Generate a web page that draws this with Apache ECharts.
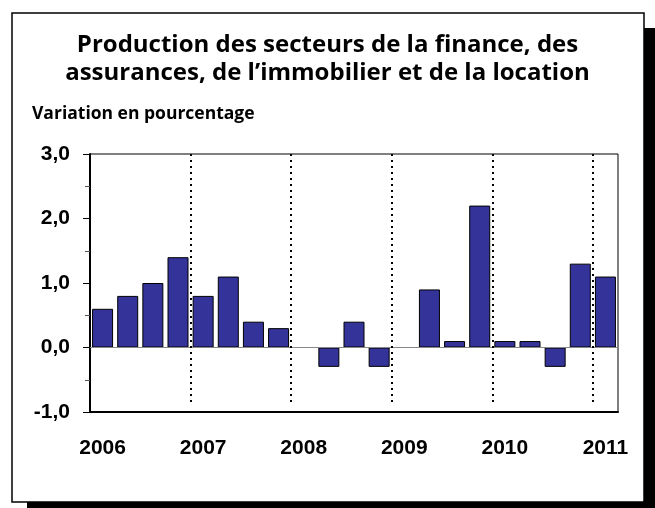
<!DOCTYPE html>
<html>
<head>
<meta charset="utf-8">
<script src="https://cdn.jsdelivr.net/npm/echarts@6/dist/echarts.min.js"></script>
<style>
  html, body { margin: 0; padding: 0; background: #fff; }
  #main { width: 655px; height: 508px; }
</style>
</head>
<body>
<div id="main"></div>
<script>
// trimestres 2006T1 - 2011T1
var quarters = ['2006T1','2006T2','2006T3','2006T4','2007T1','2007T2','2007T3','2007T4',
                '2008T1','2008T2','2008T3','2008T4','2009T1','2009T2','2009T3','2009T4',
                '2010T1','2010T2','2010T3','2010T4','2011T1'];
var values = [0.6, 0.8, 1.0, 1.4, 0.8, 1.1, 0.4, 0.3,
              0.0, -0.3, 0.4, -0.3, 0.0, 0.9, 0.1, 2.2,
              0.1, 0.1, -0.3, 1.3, 1.1];
// separateurs d'annees (en nombre de trimestres)
var yearBreaks = [4, 8, 12, 16, 20];

var myChart = echarts.init(document.getElementById('main'));

var breakLines = yearBreaks.map(function (b) {
    return [{ coord: [b, 3] }, { coord: [b, -0.9] }];
});

myChart.setOption({
    animation: false,
    backgroundColor: '#fff',
    graphic: [
        { type: 'rect', z: -10, shape: { x: 27, y: 28, width: 640, height: 490 }, style: { fill: '#000' } },
        { type: 'rect', z: -9, shape: { x: 12, y: 13, width: 632, height: 489 }, style: { fill: '#fff', stroke: '#000', lineWidth: 1.5 } },
        { type: 'text', left: 'center', top: 31, style: {
            text: 'Production des secteurs de la finance, des\nassurances, de l\u2019immobilier et de la location',
            font: 'bold 24px "Open Sans"', fill: '#000', textAlign: 'center', lineHeight: 28 } },
        { type: 'text', left: 32, top: 105, style: {
            text: 'Variation en pourcentage', font: 'bold 17.5px "Open Sans"', fill: '#000' } }
    ],
    grid: { left: 90, top: 154, right: 37, bottom: 96, show: true, borderColor: '#000', borderWidth: 1 },
    xAxis: [{
        type: 'category',
        data: quarters,
        position: 'bottom',
        axisLine: { onZero: false, lineStyle: { color: '#000', width: 2 } },
        axisTick: { show: false },
        axisLabel: {
            interval: 0,
            margin: 26,
            color: '#000',
            fontFamily: 'Liberation Sans',
            fontWeight: 'bold',
            fontSize: 21,
            formatter: function (v, i) { return i % 4 === 0 ? v.slice(0, 4) : ''; }
        }
    }, {
        type: 'value',
        min: 0, max: 21,
        show: false
    }],
    yAxis: {
        type: 'value',
        min: -1, max: 3, interval: 1,
        axisLine: { show: true, lineStyle: { color: '#000', width: 2 } },
        axisTick: { show: true, length: 7, lineStyle: { color: '#000' } },
        minorTick: { show: true, splitNumber: 2, length: 5, lineStyle: { color: '#555' } },
        splitLine: { show: false },
        axisLabel: {
            margin: 20,
            color: '#000',
            fontFamily: 'Liberation Sans',
            fontWeight: 'bold',
            fontSize: 21,
            formatter: function (v) { return v.toFixed(1).replace('.', ','); }
        }
    },
    series: [{
        type: 'bar',
        data: values,
        barWidth: 21,
        itemStyle: { color: '#333399', borderColor: '#000', borderWidth: 1 },
        markLine: {
            silent: true,
            symbol: 'none',
            label: { show: false },
            lineStyle: { color: '#888', width: 1, type: 'solid' },
            data: [{ yAxis: 0 }]
        }
    }, {
        type: 'line',
        xAxisIndex: 1,
        data: [],
        markLine: {
            silent: true,
            symbol: 'none',
            label: { show: false },
            lineStyle: { color: '#000', width: 2, type: [2, 4] },
            data: breakLines
        }
    }]
});
</script>
</body>
</html>
